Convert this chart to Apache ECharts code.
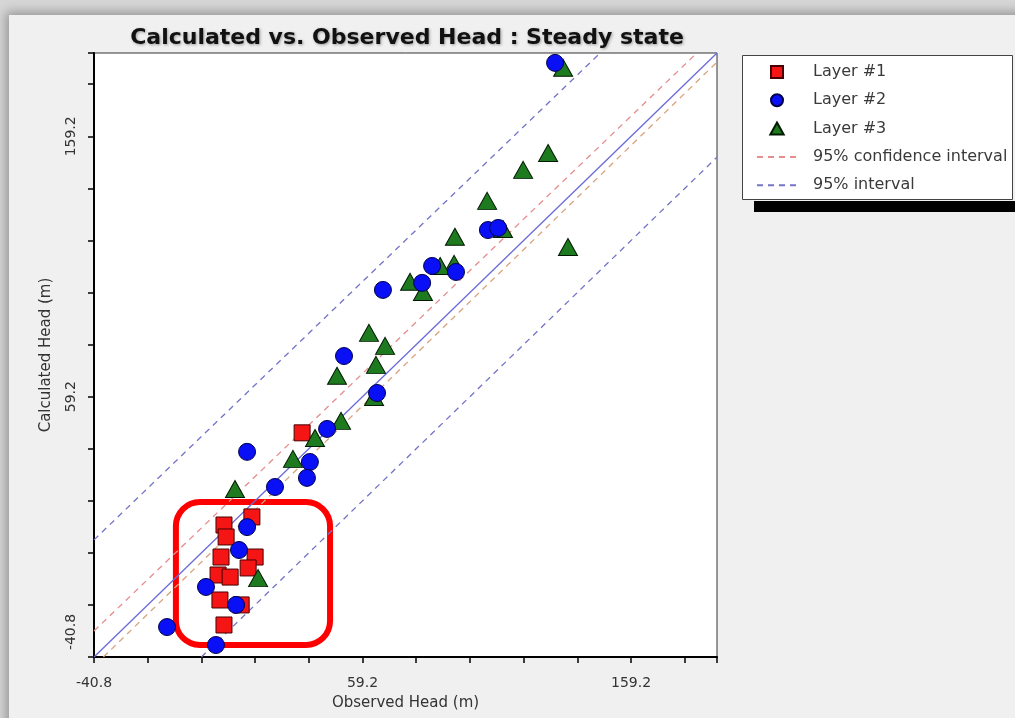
<!DOCTYPE html>
<html>
<head>
<meta charset="utf-8">
<script src="https://cdn.jsdelivr.net/npm/echarts@6/dist/echarts.min.js"></script>
<style>
  html, body { margin: 0; padding: 0; width: 1015px; height: 718px; overflow: hidden; background: #d6d6d6; }
  #frame { position: absolute; left: 9px; top: 15px; width: 1060px; height: 760px; background: #f0f0f0;
           box-shadow: 0 0 10px 3px rgba(0,0,0,0.30); }
  #chart { position: absolute; left: 0; top: 0; width: 1015px; height: 718px; }
</style>
</head>
<body>
<div id="frame"></div>
<div id="chart"></div>
<script>
// Axis range shared by both axes (observed and calculated head, metres)
const AXIS_MIN = -40.8;
const AXIS_MAX = 191.2;
const TICK_STEP = 20;
const tickLabels = ['-40.8', '59.2', '159.2'];

// [observed, calculated] heads per layer
const layer1 = [
  [7.6, 9.9], [18.0, 13.0], [8.4, 5.3], [6.5, -2.4], [19.2, -2.4], [16.6, -6.6],
  [5.4, -9.3], [9.9, -10.1], [6.1, -18.9], [14.0, -20.8], [7.6, -28.5], [36.7, 45.3]
];
const layer2 = [
  [130.9, 187.4], [105.9, 123.2], [109.7, 124.0], [85.1, 109.4], [94.0, 107.1],
  [81.4, 102.9], [66.8, 100.2], [52.3, 74.8], [64.6, 60.6], [46.0, 46.8],
  [39.6, 34.1], [38.5, 28.0], [26.6, 24.5], [16.2, 38.0], [16.2, 9.1],
  [13.2, 0.3], [0.9, -13.9], [12.1, -20.8], [-13.6, -29.3], [4.6, -36.2]
];
const layer3 = [
  [133.9, 185.5], [128.3, 152.8], [119.0, 146.3], [105.6, 134.4], [93.6, 120.6],
  [135.7, 116.7], [93.3, 110.2], [88.1, 109.4], [111.5, 123.6], [76.9, 103.3],
  [81.7, 99.4], [61.6, 83.7], [67.6, 78.7], [64.2, 71.4], [49.7, 67.2],
  [63.5, 59.1], [51.2, 49.9], [41.5, 43.3], [33.3, 35.3], [11.7, 23.7], [20.3, -10.5]
];

// 1:1 line and interval bounds, as end points
const unityLine = [[-40.8, -40.8], [191.2, 191.2]];
const confUpper = [[-40.8, -30.8], [183.7, 191.2]];
const confLower = [[-37.3, -40.8], [191.2, 187.7]];
const predUpper = [[-40.8, 4.2], [147.7, 191.2]];
const predLower = [[-0.8, -40.8], [191.2, 151.2]];

// Highlighted group of shallow wells: [xMin, xMax, yMin, yMax]
const highlightBox = [-10.3, 47.1, -36.2, 18.7];

const FONT = 'DejaVu Sans';

function tickFormatter(v) {
  const s = v.toFixed(1);
  return tickLabels.indexOf(s) >= 0 ? s : '';
}

function dashedSeries(name, data, color) {
  return {
    name: name, type: 'line', data: data, symbol: 'none', showSymbol: false,
    silent: true, z: 2,
    itemStyle: { color: color },
    lineStyle: { color: color, width: 1.3, type: [6, 5] }
  };
}

const chart = echarts.init(document.getElementById('chart'), null, { renderer: 'canvas' });

const legendBox = [
  { type: 'rect', id: 'legShadow', shape: { x: 754, y: 201, width: 262, height: 11 }, style: { fill: '#000' }, z: 0 },
  { type: 'rect', id: 'legBox', shape: { x: 742.5, y: 55.5, width: 270, height: 144 }, style: { fill: '#fff', stroke: '#444', lineWidth: 1 }, z: 0 }
];

// legend entries for the interval lines show only the dashed stroke
const hiddenMarker = { opacity: 0 };

chart.setOption({
  animation: false,
  backgroundColor: 'transparent',
  title: {
    text: 'Calculated vs. Observed Head : Steady state',
    left: 402, top: 22, textAlign: 'center',
    textStyle: {
      fontFamily: FONT, fontWeight: 'bold', fontSize: 22, color: '#111',
      textShadowColor: 'rgba(0,0,0,0.35)', textShadowBlur: 3, textShadowOffsetX: 1, textShadowOffsetY: 1
    }
  },
  grid: {
    left: 94, top: 53, width: 623, height: 604,
    show: true, backgroundColor: '#fff', borderColor: '#333', borderWidth: 1
  },
  legend: {
    orient: 'vertical', left: 751, top: 59,
    itemWidth: 40, itemHeight: 12, itemGap: 12.3,
    symbolKeepAspect: true,
    textStyle: { fontFamily: FONT, fontSize: 16, color: '#3a3a3a', padding: [0, 0, 0, 11] },
    data: [
      { name: 'Layer #1', icon: 'path://M0 0H10V10H0Z' },
      { name: 'Layer #2', icon: 'circle' },
      { name: 'Layer #3', icon: 'path://M5 0L10 9H0Z' },
      { name: '95% confidence interval', itemStyle: hiddenMarker },
      { name: '95% interval', itemStyle: hiddenMarker }
    ]
  },
  xAxis: {
    type: 'value', min: AXIS_MIN, max: AXIS_MAX, interval: TICK_STEP,
    name: 'Observed Head (m)', nameLocation: 'middle', nameGap: 39,
    nameTextStyle: { fontFamily: FONT, fontSize: 15, color: '#333' },
    axisLine: { onZero: false, lineStyle: { color: '#000', width: 2 } },
    axisTick: { show: true, inside: false, length: 6, lineStyle: { color: '#000', width: 1.5 } },
    axisLabel: { formatter: tickFormatter, fontFamily: FONT, fontSize: 14, color: '#333', margin: 19 },
    splitLine: { show: false }
  },
  yAxis: {
    type: 'value', min: AXIS_MIN, max: AXIS_MAX, interval: TICK_STEP,
    name: 'Calculated Head (m)', nameLocation: 'middle', nameGap: 40,
    nameTextStyle: { fontFamily: FONT, fontSize: 15, color: '#333' },
    axisLine: { onZero: false, lineStyle: { color: '#000', width: 2 } },
    axisTick: { show: true, inside: false, length: 6, lineStyle: { color: '#000', width: 1.5 } },
    axisLabel: {
      rotate: 90, margin: 16, fontFamily: FONT, fontSize: 14, color: '#333',
      formatter: function (v) {
        const s = tickFormatter(v);
        return s === '-40.8' ? '{lo|' + s + '}' : s;
      },
      rich: { lo: { fontFamily: FONT, fontSize: 14, color: '#333', padding: [0, 0, 0, 50] } }
    },
    splitLine: { show: false }
  },
  graphic: legendBox,
  series: [
    { name: '1:1', type: 'line', data: unityLine, symbol: 'none', showSymbol: false, silent: true, z: 2,
      lineStyle: { color: '#6a6ad8', width: 1.3 } },
    dashedSeries('95% confidence interval', confUpper, '#e58c8c'),
    dashedSeries('95% confidence interval', confLower, '#dba27c'),
    dashedSeries('95% interval', predUpper, '#7474c8'),
    dashedSeries('95% interval', predLower, '#7474c8'),
    { name: 'Layer #1', type: 'scatter', data: layer1, symbol: 'rect', symbolSize: 16, z: 3,
      itemStyle: { color: '#f51515', borderColor: '#4a0000', borderWidth: 1, opacity: 1 } },
    { name: 'Layer #3', type: 'scatter', data: layer3, symbol: 'triangle', symbolSize: [19, 17], z: 4,
      itemStyle: { color: '#1e7a1e', borderColor: '#001a00', borderWidth: 1, opacity: 1 } },
    { name: 'Layer #2', type: 'scatter', data: layer2, symbol: 'circle', symbolSize: 17, z: 5,
      itemStyle: { color: '#0a10f5', borderColor: '#00004a', borderWidth: 1, opacity: 1 } }
  ]
});

// Rounded frame around the highlighted group, placed through the grid's own scales
const pA = chart.convertToPixel({ gridIndex: 0 }, [highlightBox[0], highlightBox[3]]);
const pB = chart.convertToPixel({ gridIndex: 0 }, [highlightBox[1], highlightBox[2]]);
chart.setOption({
  graphic: legendBox.concat([{
    type: 'rect', id: 'highlight', z: 1,
    shape: { x: pA[0], y: pA[1], width: pB[0] - pA[0], height: pB[1] - pA[1], r: 24 },
    style: { fill: 'none', stroke: '#ff0000', lineWidth: 6 }
  }])
});
</script>
</body>
</html>
